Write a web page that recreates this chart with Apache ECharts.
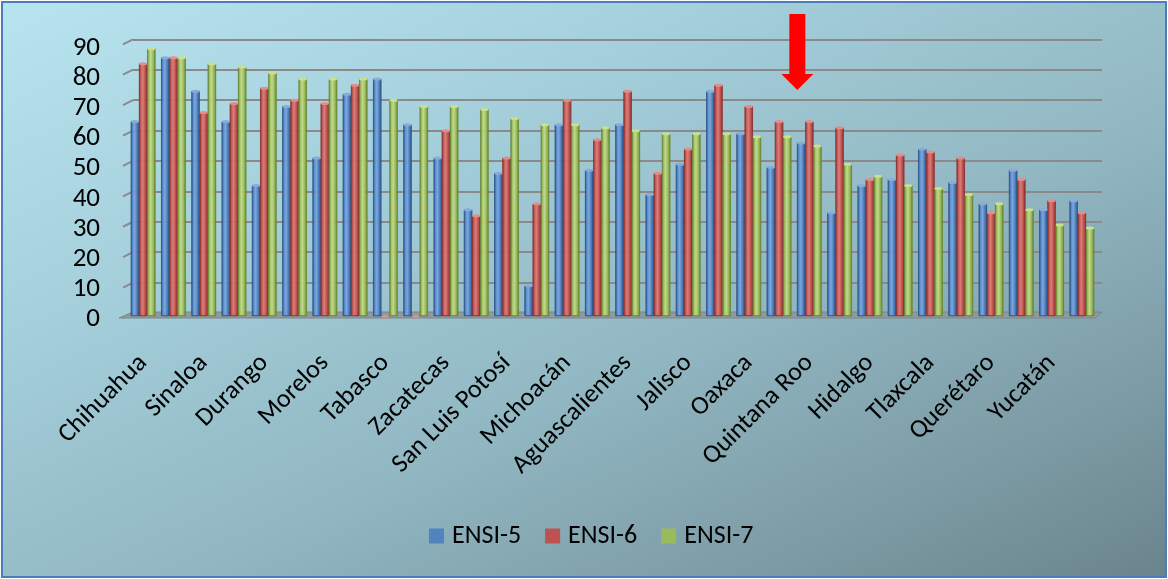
<!DOCTYPE html>
<html>
<head>
<meta charset="utf-8">
<script src="https://cdn.jsdelivr.net/npm/echarts@6/dist/echarts.min.js"></script>
<style>
  html, body { margin: 0; padding: 0; background: #ffffff; }
  #frame {
    position: absolute; left: 1px; top: 1px; width: 1166px; height: 577px;
    box-sizing: border-box; border: 2px solid #4a7ebb;
    background: linear-gradient(155deg, #b8e4f0 0%, #a4cfdb 30%, #90b6c1 60%, #7a98a1 85%, #6a848c 100%);
  }
  #chart { position: absolute; left: 0; top: 0; width: 1168px; height: 579px; }
</style>
</head>
<body>
<div id="frame"></div>
<div id="chart"></div>
<script>
// States, ordered by ENSI-7 share
const categories = [
  'Chihuahua', 'Distrito Federal', 'Sinaloa', 'Nuevo León', 'Durango', 'Baja California',
  'Morelos', 'Estado de México', 'Tabasco', 'Tamaulipas', 'Zacatecas', 'Guerrero',
  'San Luis Potosí', 'Sonora', 'Michoacán', 'Coahuila', 'Aguascalientes', 'Colima',
  'Jalisco', 'Baja California Sur', 'Oaxaca', 'Puebla', 'Quintana Roo', 'Guanajuato',
  'Hidalgo', 'Veracruz', 'Tlaxcala', 'Nayarit', 'Querétaro', 'Campeche', 'Yucatán', 'Chiapas'
];
const ensi5 = [64, 85, 74, 64, 43, 69, 52, 73, 78, 63, 52, 35, 47, 10, 63, 48,
               63, 40, 50, 74, 60, 49, 57, 34, 43, 45, 55, 44, 37, 48, 35, 38];
const ensi6 = [83, 85, 67, 70, 75, 71, 70, 76, 0, 0, 61, 33, 52, 37, 71, 58,
               74, 47, 55, 76, 69, 64, 64, 62, 45, 53, 54, 52, 34, 45, 38, 34];
const ensi7 = [88, 85, 83, 82, 80, 78, 78, 78, 71, 69, 69, 68, 65, 63, 63, 62,
               61, 60, 60, 60, 59, 59, 56, 50, 46, 43, 42, 40, 37, 35, 30, 29];
const seriesNames = ['ENSI-5', 'ENSI-6', 'ENSI-7'];
const yTicks = { min: 0, max: 90, interval: 10 };
const highlighted = 'Quintana Roo';

const FONT = 'Carlito, Lato, "Open Sans", sans-serif';

// Cylinder-like shading for each series
const palette = [
  { base: '#4f81bd', stops: ['#2f5b93', '#5f90cf', '#7aa6df', '#4a7bb8', '#2c548a'], cap: '#86acdc', edge: '#2d5185' },
  { base: '#c0504d', stops: ['#8f2f2c', '#cc5f5b', '#dc7a76', '#bd4c49', '#86302d'], cap: '#e08e8a', edge: '#8a2f2c' },
  { base: '#9bbb59', stops: ['#6d8a35', '#a8c767', '#c0d98a', '#96b655', '#688432'], cap: '#c9e08f', edge: '#688532' }
];
function shade(p) {
  return {
    type: 'linear', x: 0, y: 0, x2: 1, y2: 0,
    colorStops: [
      { offset: 0, color: p.stops[0] }, { offset: 0.25, color: p.stops[1] },
      { offset: 0.45, color: p.stops[2] }, { offset: 0.75, color: p.stops[3] },
      { offset: 1, color: p.stops[4] }
    ]
  };
}

const values = [ensi5, ensi6, ensi7];
const barGapCfg = { barGap: '0%', barCategoryGap: '19%' };

const series = [];
values.forEach((vals, i) => {
  series.push(Object.assign({
    name: seriesNames[i], type: 'bar', xAxisIndex: 0, yAxisIndex: 0,
    data: vals, z: 3,
    itemStyle: { color: shade(palette[i]), borderColor: palette[i].edge, borderWidth: 0.6, opacity: 0.97 },
    emphasis: { disabled: true }
  }, barGapCfg));
});
values.forEach((vals, i) => {
  series.push(Object.assign({
    name: seriesNames[i] + ' top', type: 'pictorialBar', xAxisIndex: 0, yAxisIndex: 0,
    data: vals, z: 4, symbol: 'circle', symbolSize: ['100%', 3],
    symbolPosition: 'end', symbolOffset: [0, '-50%'],
    itemStyle: { color: palette[i].cap, borderColor: palette[i].edge, borderWidth: 0.6 },
    emphasis: { disabled: true }, silent: true
  }, barGapCfg));
});

// Front plane (bars), back wall (gridlines), and the value-label scale
const FRONT = { left: 128, right: 71, top: 42.4, bottom: 263 };
const BACK = { left: 133, right: 66, top: 39.3, bottom: 266 };
const LABELS = { left: 128, right: 71, top: 48.5, bottom: 260 };

const chart = echarts.init(document.getElementById('chart'), null, { renderer: 'canvas' });
chart.setOption({
  backgroundColor: 'transparent',
  animation: false,
  textStyle: { fontFamily: FONT },
  grid: [
    Object.assign({ containLabel: false }, FRONT),
    Object.assign({ containLabel: false }, BACK),
    Object.assign({ containLabel: false }, LABELS)
  ],
  xAxis: [
    {
      type: 'category', gridIndex: 0, data: categories,
      axisLine: { show: false }, axisTick: { show: false },
      axisLabel: { interval: 1, rotate: 45, margin: 43, color: '#000', fontSize: 26, fontFamily: FONT }
    },
    { type: 'category', gridIndex: 1, data: categories, show: false },
    { type: 'category', gridIndex: 2, data: categories, show: false }
  ],
  yAxis: [
    {
      type: 'value', gridIndex: 0, min: yTicks.min, max: yTicks.max, interval: yTicks.interval,
      show: false
    },
    {
      type: 'value', gridIndex: 1, min: yTicks.min, max: yTicks.max, interval: yTicks.interval,
      axisLine: { show: false }, axisTick: { show: false }, axisLabel: { show: false },
      splitLine: { show: true, lineStyle: { color: '#8a8a8a', width: 2 } }
    },
    {
      type: 'value', gridIndex: 2, min: yTicks.min, max: yTicks.max, interval: yTicks.interval,
      axisLine: { show: false }, axisTick: { show: false }, splitLine: { show: false },
      axisLabel: { color: '#000', fontSize: 27, margin: 28, fontFamily: FONT }
    }
  ],
  legend: {
    data: seriesNames.map((n, i) => ({ name: n, itemStyle: { color: palette[i].base, borderWidth: 0 } })),
    left: 424, top: 518, icon: 'rect', itemWidth: 15, itemHeight: 15, itemGap: 24,
    textStyle: { color: '#000', fontSize: 26, fontFamily: FONT, padding: [0, 0, 0, 3] },
    selectedMode: false
  },
  series: series
});

// Wall edges, floor and the pointer arrow, placed from the axes
function decorate() {
  const g = [];
  const backLeft = BACK.left, backRight = 1168 - BACK.right;
  const frontLeft = 123, frontRight = 1095;
  for (let v = yTicks.min; v <= yTicks.max; v += yTicks.interval) {
    const y = chart.convertToPixel({ yAxisIndex: 1 }, v);
    g.push({ type: 'polyline', z: 1, shape: { points: [[frontLeft, y + 5], [backLeft, y]] },
             style: { stroke: '#8a8a8a', lineWidth: 2, fill: null } });
  }
  const yb = chart.convertToPixel({ yAxisIndex: 1 }, 0);
  const yf = chart.convertToPixel({ yAxisIndex: 0 }, 0);
  g.push({ type: 'polygon', z: 1,
           shape: { points: [[backLeft, yb - 1], [backRight, yb - 1], [frontRight, yf + 2], [frontLeft - 4, yf + 2]] },
           style: { fill: '#8f9a9e', stroke: '#7d8689', lineWidth: 1 } });
  const ax = chart.convertToPixel({ xAxisIndex: 0 }, highlighted) - 12;
  g.push({ type: 'polygon', z: 10,
           shape: { points: [[ax - 8, 14], [ax + 8, 14], [ax + 8, 74], [ax + 16, 74], [ax, 90], [ax - 16, 74], [ax - 8, 74]] },
           style: { fill: '#ff0000' } });
  chart.setOption({ graphic: g });
}
decorate();
</script>
</body>
</html>
